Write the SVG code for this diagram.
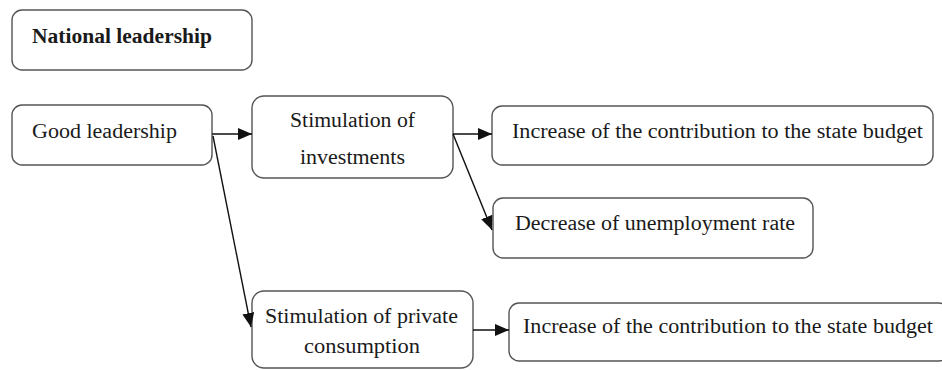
<svg xmlns="http://www.w3.org/2000/svg" width="942" height="370" viewBox="0 0 942 370">
<style>
.box{fill:#fff;stroke:#555;stroke-width:1.4}
.t{font-family:"Liberation Serif","Times New Roman",serif;font-size:20.5px;fill:#1a1a1a}
.b{font-weight:bold}
.c{stroke:#111;stroke-width:1.4;fill:none;marker-end:url(#ah)}
</style>
<defs>
<marker id="ah" markerUnits="userSpaceOnUse" markerWidth="15" markerHeight="12" refX="14" refY="6" orient="auto">
<path d="M0,0 L14,6 L0,12 Z" fill="#111"/>
</marker>
</defs>
<rect width="942" height="370" fill="#fff"/>
<g id="national">
<rect class="box" x="12" y="10" width="240" height="60" rx="10"/>
<text class="t b" x="32" y="43" textLength="180" lengthAdjust="spacingAndGlyphs">National leadership</text>
</g>
<g id="good">
<rect class="box" x="12" y="105" width="200" height="60" rx="10"/>
<text class="t" x="32" y="138" textLength="145" lengthAdjust="spacingAndGlyphs">Good leadership</text>
</g>
<g id="stiminv">
<rect class="box" x="252" y="96" width="201" height="82" rx="12"/>
<text class="t" x="290" y="127" textLength="125" lengthAdjust="spacingAndGlyphs">Stimulation of</text>
<text class="t" x="300" y="164" textLength="105" lengthAdjust="spacingAndGlyphs">investments</text>
</g>
<g id="increase1">
<rect class="box" x="492" y="106" width="441" height="59" rx="10"/>
<text class="t" x="512" y="138" textLength="411" lengthAdjust="spacingAndGlyphs">Increase of the contribution to the state budget</text>
</g>
<g id="decrease">
<rect class="box" x="493" y="198" width="320" height="60" rx="10"/>
<text class="t" x="515" y="230" textLength="280" lengthAdjust="spacingAndGlyphs">Decrease of unemployment rate</text>
</g>
<g id="stimpriv">
<rect class="box" x="252" y="291" width="221" height="77" rx="12"/>
<text class="t" x="265" y="323" textLength="193" lengthAdjust="spacingAndGlyphs">Stimulation of private</text>
<text class="t" x="304" y="353" textLength="116" lengthAdjust="spacingAndGlyphs">consumption</text>
</g>
<g id="increase2">
<rect class="box" x="509" y="303" width="440" height="58" rx="10"/>
<text class="t" x="523" y="333" textLength="410" lengthAdjust="spacingAndGlyphs">Increase of the contribution to the state budget</text>
</g>
<g id="connectors">
<line class="c" x1="212" y1="134" x2="252" y2="134"/>
<line class="c" x1="213" y1="136" x2="251" y2="327"/>
<line class="c" x1="453" y1="134" x2="492" y2="134"/>
<line class="c" x1="453" y1="134" x2="492" y2="230"/>
<line class="c" x1="473" y1="330" x2="509" y2="330"/>
</g>
</svg>
